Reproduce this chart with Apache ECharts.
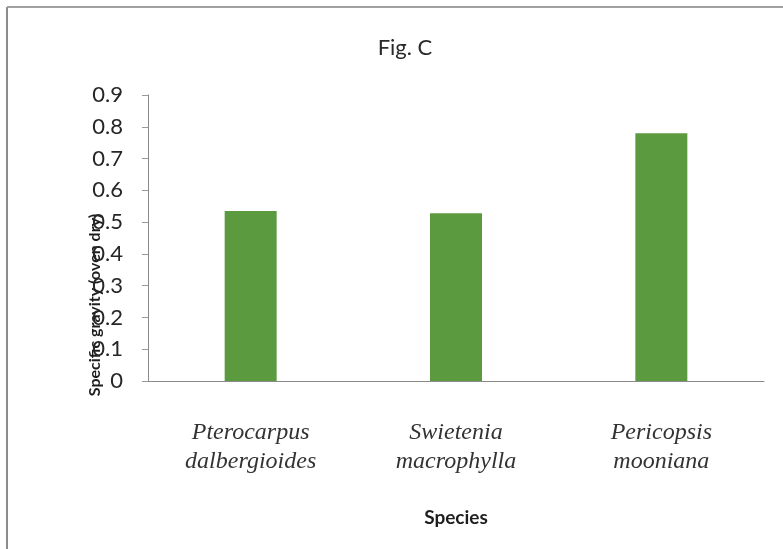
<!DOCTYPE html>
<html>
<head>
<meta charset="utf-8">
<script src="https://cdn.jsdelivr.net/npm/echarts@6/dist/echarts.min.js"></script>
<style>
  html, body { margin: 0; padding: 0; background: #ffffff; }
  #chart { width: 783px; height: 549px; }
</style>
</head>
<body>
<div id="chart"></div>
<script>
// Species (x categories) and oven-dry specific gravity values
const species = ['Pterocarpus\ndalbergioides', 'Swietenia\nmacrophylla', 'Pericopsis\nmooniana'];
const specificGravity = [0.535, 0.528, 0.78];
const yTicks = [0, 0.1, 0.2, 0.3, 0.4, 0.5, 0.6, 0.7, 0.8, 0.9];

const chart = echarts.init(document.getElementById('chart'));

const option = {
  backgroundColor: '#ffffff',
  animation: false,
  title: {
    text: 'Fig. C',
    left: 400,
    top: 32,
    textAlign: 'center',
    textStyle: { fontFamily: 'Lato', fontSize: 22, fontWeight: 'normal', color: '#2a2a2a' }
  },
  grid: { left: 148, right: 19, top: 95, bottom: 168 },
  xAxis: {
    type: 'category',
    data: species,
    axisLine: { lineStyle: { color: '#8a8a8a', width: 1 } },
    axisTick: { show: false },
    axisLabel: {
      margin: 37,
      fontFamily: 'Liberation Serif',
      fontStyle: 'italic',
      fontSize: 24,
      lineHeight: 29,
      color: '#333333'
    },
    name: 'Species',
    nameLocation: 'middle',
    nameGap: 127,
    nameTextStyle: { fontFamily: 'Lato', fontWeight: 'bold', fontSize: 19, color: '#1e1e1e' }
  },
  yAxis: {
    type: 'value',
    min: yTicks[0],
    max: yTicks[yTicks.length - 1],
    interval: 0.1,
    axisLine: { show: true, lineStyle: { color: '#8a8a8a', width: 1 } },
    axisTick: { show: true, length: 6, lineStyle: { color: '#9a9a9a' } },
    splitLine: { show: false },
    axisLabel: {
      margin: 25,
      fontFamily: 'Lato',
      fontSize: 22,
      color: '#262626',
      formatter: function (v) { return String(Math.round(v * 10) / 10); }
    }
  },
  series: [{
    type: 'bar',
    data: specificGravity,
    barWidth: 52,
    itemStyle: { color: '#5c9a40' }
  }],
  graphic: [
    // page frame (left and top edges)
    { type: 'line', shape: { x1: 7, y1: 7, x2: 7, y2: 549 }, style: { stroke: '#8c8c8c', lineWidth: 2 } },
    { type: 'line', shape: { x1: 7, y1: 7, x2: 783, y2: 7 }, style: { stroke: '#a0a0a0', lineWidth: 2 } },
    // y axis title, drawn beneath the tick labels
    {
      type: 'text',
      x: 95,
      y: 305,
      z: -1,
      rotation: Math.PI / 2,
      style: {
        text: 'Specific gravity (oven dry)',
        fontFamily: 'Lato',
        fontWeight: 'bold',
        fontSize: 16,
        fill: '#1e1e1e',
        align: 'center',
        verticalAlign: 'middle'
      }
    }
  ]
};

chart.setOption(option);
</script>
</body>
</html>
